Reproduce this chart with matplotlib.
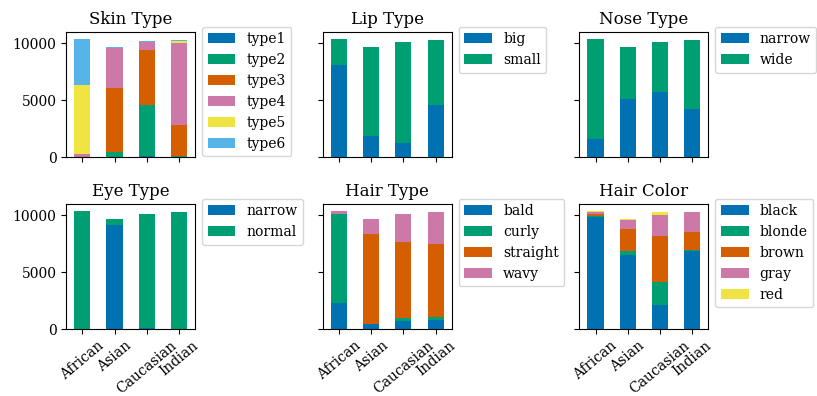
import matplotlib
matplotlib.use("Agg")
import matplotlib.pyplot as plt
import numpy as np

plt.style.use("seaborn-v0_8-colorblind")
plt.rcParams["font.family"] = "serif"
plt.rcParams["font.size"] = 10

races = ["African", "Asian", "Caucasian", "Indian"]

# counts per attribute value, one list per race (African, Asian, Caucasian, Indian)
skin_labels = ["type1", "type2", "type3", "type4", "type5", "type6"]
skin_type1 = [20, 50, 120, 30]
skin_type2 = [10, 400, 4420, 80]
skin_type3 = [20, 5630, 4870, 2680]
skin_type4 = [230, 3540, 730, 7240]
skin_type5 = [6100, 0, 0, 180]
skin_type6 = [4050, 60, 60, 90]

lip_labels = ["big", "small"]
lip_big = [8080, 1890, 1270, 4540]
lip_small = [2320, 7820, 8900, 5790]

nose_labels = ["narrow", "wide"]
nose_narrow = [1560, 5070, 5720, 4220]
nose_wide = [8840, 4640, 4450, 6110]

eye_labels = ["narrow", "normal"]
eye_narrow = [0, 9200, 60, 0]
eye_normal = [10400, 510, 10110, 10330]

hair_type_labels = ["bald", "curly", "straight", "wavy"]
hair_bald = [2300, 440, 710, 800]
hair_curly = [7790, 0, 295, 265]
hair_straight = [0, 7960, 6700, 6460]
hair_wavy = [310, 1310, 2465, 2805]

hair_color_labels = ["black", "blonde", "brown", "gray", "red"]
hair_black = [9880, 6550, 2120, 6840]
hair_blonde = [100, 295, 2065, 90]
hair_brown = [120, 2000, 4040, 1650]
hair_gray = [240, 710, 1770, 1680]
hair_red = [60, 155, 275, 70]

panels = [
    ("Skin Type", skin_labels,
     [skin_type1, skin_type2, skin_type3, skin_type4, skin_type5, skin_type6]),
    ("Lip Type", lip_labels, [lip_big, lip_small]),
    ("Nose Type", nose_labels, [nose_narrow, nose_wide]),
    ("Eye Type", eye_labels, [eye_narrow, eye_normal]),
    ("Hair Type", hair_type_labels,
     [hair_bald, hair_curly, hair_straight, hair_wavy]),
    ("Hair Color", hair_color_labels,
     [hair_black, hair_blonde, hair_brown, hair_gray, hair_red]),
]

fig, axes = plt.subplots(2, 3, figsize=(8.17, 3.96), dpi=100,
                         sharex=True, sharey=True)
fig.subplots_adjust(left=0.081, right=0.867, top=0.919, bottom=0.169,
                    wspace=0.99, hspace=0.376)

x = np.arange(len(races))
for ax, (title, labels, series) in zip(axes.flat, panels):
    bottom = np.zeros(len(races))
    for lab, vals in zip(labels, series):
        ax.bar(x, vals, width=0.5, bottom=bottom, label=lab)
        bottom += np.array(vals)
    ax.set_title(title, fontsize=12)
    ax.legend(loc="upper left", bbox_to_anchor=(1, 1.1))

axes[0, 0].set_xlim(-0.5, 3.5)
axes[0, 0].set_ylim(0, 11000)
axes[0, 0].set_yticks([0, 5000, 10000])
axes[0, 0].set_xticks(x)
for ax in axes[1]:
    ax.set_xticklabels(races, rotation=40)

plt.savefig("out.png", dpi=100)
